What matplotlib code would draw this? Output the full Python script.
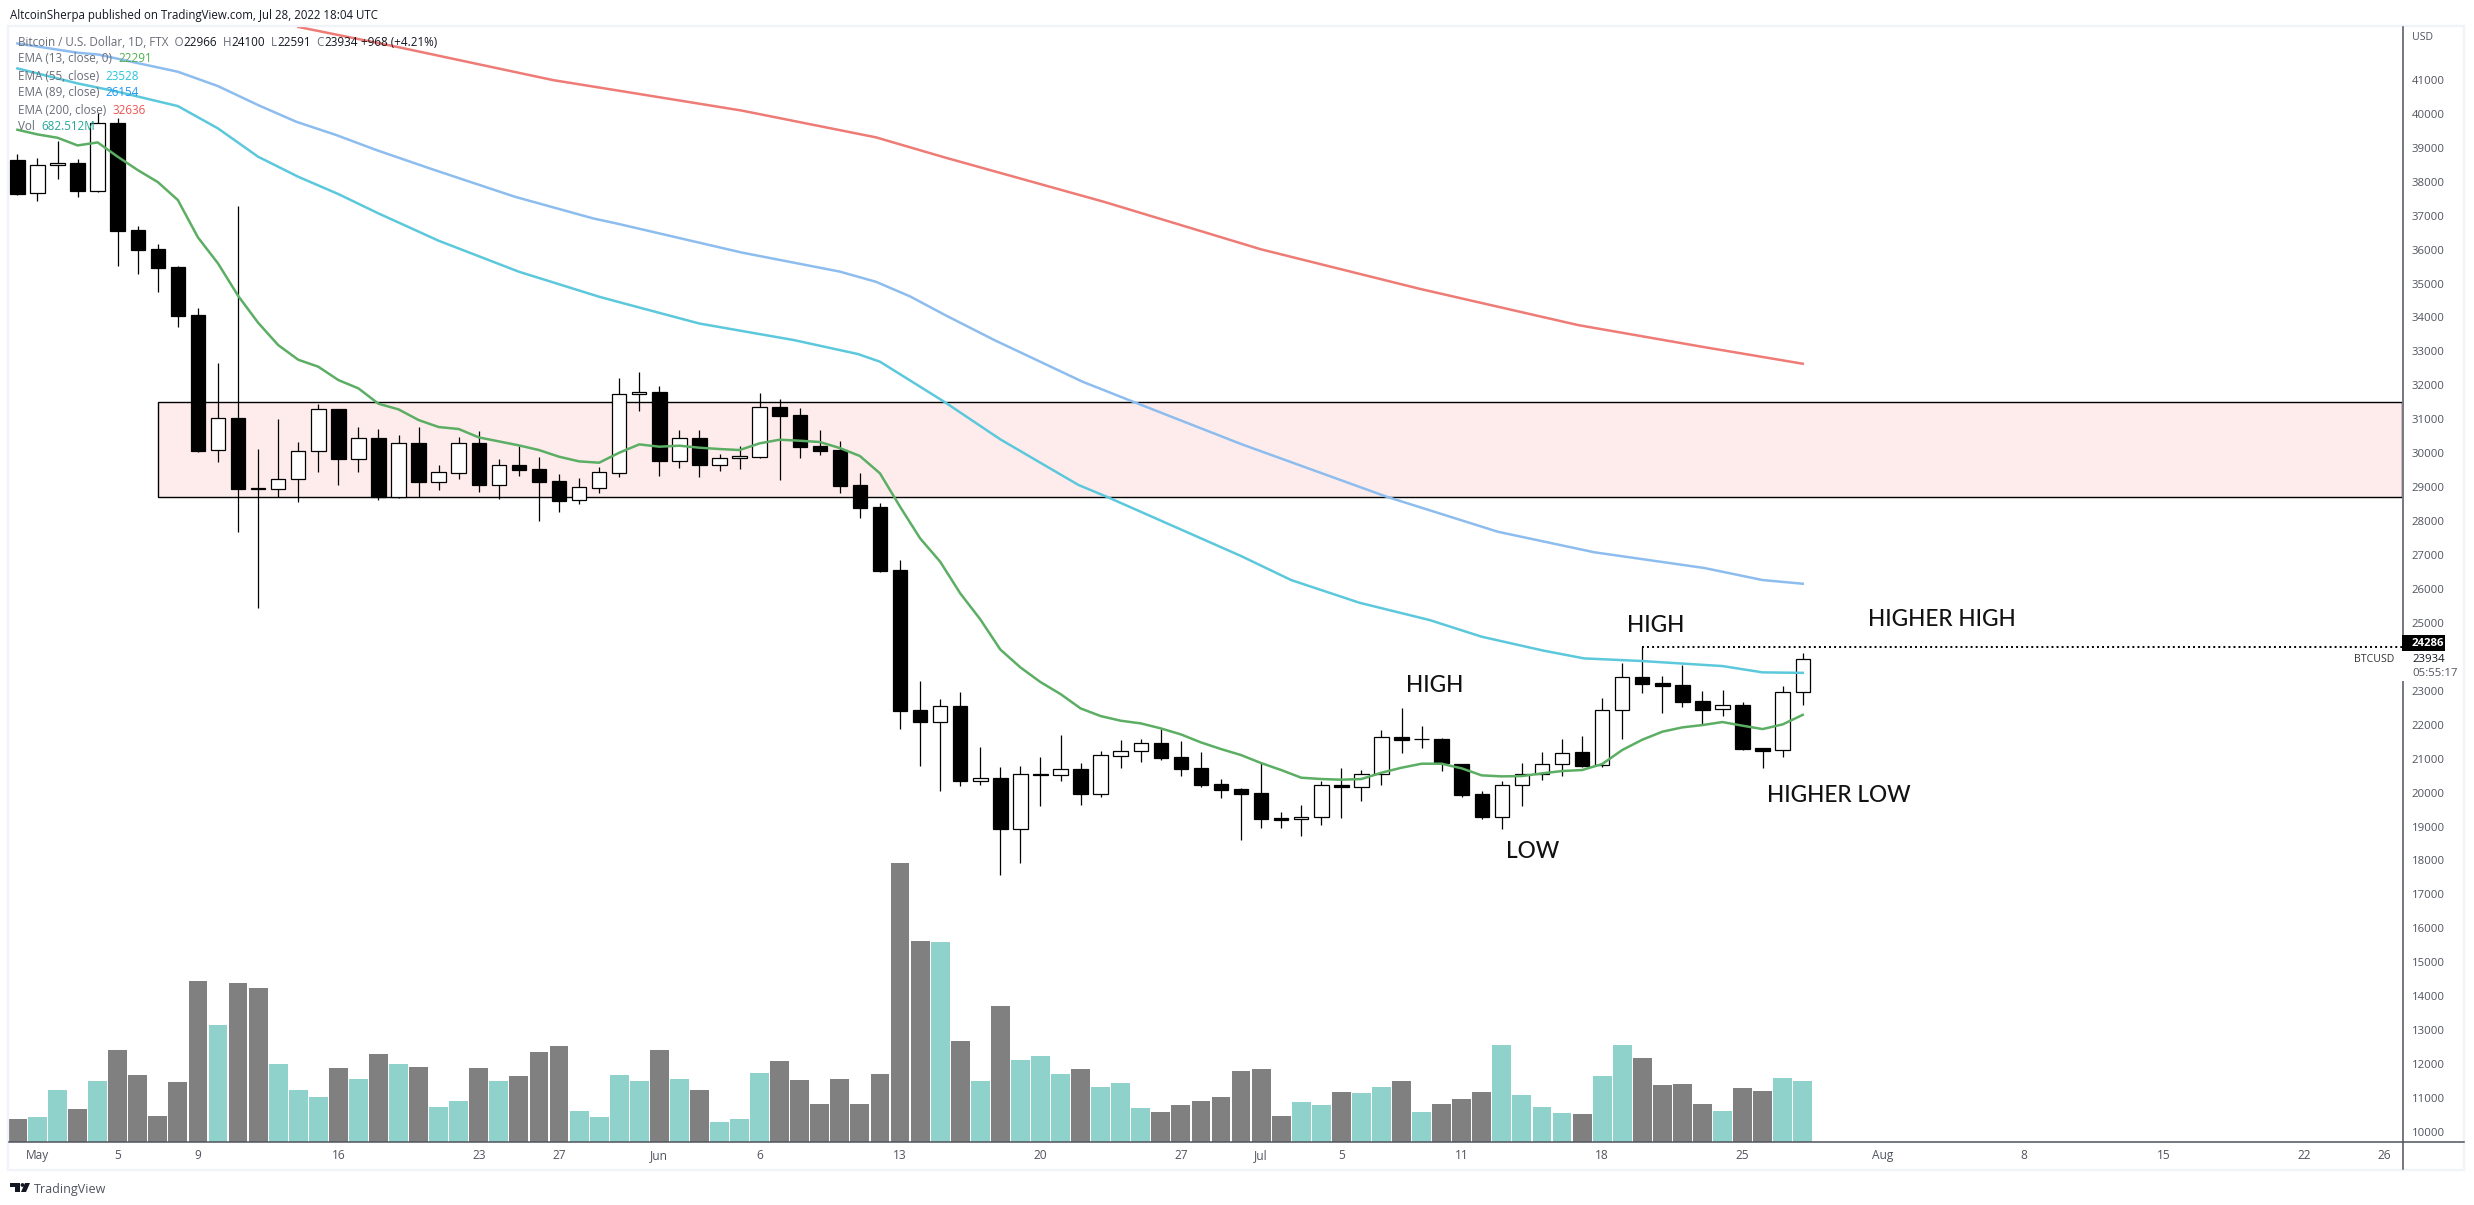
import matplotlib
matplotlib.use("Agg")
import matplotlib.pyplot as plt
from matplotlib.patches import Rectangle, Polygon, Circle

plt.rcParams["font.family"] = ["Open Sans", "DejaVu Sans"]

# OHLC per day, first candle is Apr 30
opens = [38636, 37654, 38479, 38548, 37733, 39727, 36574, 36015, 35484, 34070,
         30083, 31036, 28940, 28954, 29229, 30054, 31301, 29838, 30447, 28699,
         30299, 29160, 29425, 30299, 29072, 29651, 29533, 29180, 28610, 28983,
         29425, 31733, 31802, 29779, 30447, 29661, 29848, 29897, 31360, 31124,
         30211, 30093, 29062, 28414, 26558, 22422, 22088, 22550, 20350, 20429,
         18936, 20527, 20527, 20694, 19967, 21086, 21214, 21460, 21047, 20723,
         20252, 20105, 19977, 19251, 19211, 19270, 20213, 20154, 20537, 21627,
         21568, 21578, 20841, 19958, 19290, 20213, 20557, 20832, 21185, 20802,
         22422, 23395, 23218, 23159, 22688, 22452, 22570, 21303, 21244, 22966]
highs = [38813, 38686, 39196, 38666, 40031, 39874, 36692, 36162, 35514, 34266,
         32656, 37281, 30122, 31006, 30329, 31448, 31310, 30771, 30712, 30535,
         30771, 29651, 30476, 30643, 29828, 30211, 29887, 29386, 29268, 29602,
         32214, 32381, 31969, 30683, 30683, 29976, 30211, 31773, 31586, 31321,
         30683, 30359, 29416, 28532, 26858, 23286, 22756, 22962, 21342, 20753,
         20782, 21047, 21695, 20870, 21214, 21548, 21577, 21862, 21519, 21185,
         20389, 20124, 20910, 19418, 19624, 20341, 20714, 20665, 21843, 22491,
         21961, 21598, 20841, 20046, 20341, 20871, 21185, 21578, 21666, 22786,
         23817, 24286, 23424, 23758, 22982, 23021, 22658, 21323, 23129, 24100]
lows = [37605, 37438, 38086, 37556, 37694, 35524, 35278, 34748, 33726, 30040,
        29749, 27687, 25448, 28699, 28571, 29455, 29072, 29455, 28620, 28680,
        28699, 28915, 29239, 28856, 28659, 29327, 28001, 28266, 28502, 28826,
        29307, 31252, 29337, 29573, 29308, 29485, 29534, 29870, 29220, 29868,
        29956, 28836, 28100, 26500, 21882, 20792, 20055, 20203, 20232, 17581,
        17934, 19613, 20350, 19643, 19879, 20733, 20910, 20969, 20497, 20173,
        19849, 18612, 18966, 18966, 18730, 19054, 19260, 19761, 20223, 21175,
        21322, 20645, 19879, 19231, 18917, 19614, 20370, 20498, 20763, 20763,
        21588, 22943, 22354, 22530, 21996, 22265, 21264, 20733, 21057, 22591]
closes = [37645, 38479, 38538, 37723, 39717, 36555, 35995, 35464, 34050, 30073,
          31026, 28954, 28964, 29229, 30054, 31291, 29838, 30437, 28699, 30289,
          29160, 29435, 30289, 29072, 29641, 29504, 29160, 28600, 28993, 29435,
          31733, 31792, 29779, 30437, 29652, 29848, 29907, 31350, 31105, 30192,
          30074, 29043, 28395, 26538, 22412, 22088, 22540, 20350, 20419, 18936,
          20537, 20546, 20684, 19967, 21096, 21214, 21450, 21028, 20703, 20232,
          20085, 19967, 19231, 19201, 19270, 20213, 20154, 20537, 21627, 21558,
          21568, 20861, 19928, 19280, 20213, 20557, 20832, 21175, 20782, 22422,
          23395, 23208, 23149, 22678, 22442, 22570, 21293, 21234, 22953, 23934]

# volume in millions, and the days drawn teal
volumes = [261, 283, 586, 373, 686, 1033, 753, 295, 675, 1805,
           1313, 1783, 1727, 877, 586, 507, 832, 709, 988, 877,
           843, 395, 463, 832, 686, 742, 1011, 1078, 351, 283,
           753, 686, 1033, 709, 586, 228, 261, 776, 910, 698,
           429, 709, 429, 765, 3126, 2253, 2242, 1134, 686, 1526,
           921, 966, 765, 821, 619, 664, 384, 339, 418, 463,
           507, 798, 821, 295, 451, 418, 563, 552, 619, 686,
           339, 429, 485, 563, 1089, 530, 395, 328, 317, 742,
           1089, 944, 642, 653, 429, 351, 608, 574, 720, 683]
teal_days = [1, 2, 4, 10, 13, 14, 15, 17, 19, 21, 22, 24, 28, 29, 30, 31, 33, 35, 36, 37,
             46, 48, 50, 51, 52, 54, 55, 56, 64, 65, 67, 68, 70, 74, 75, 76, 77, 79, 80,
             85, 88, 89]

ema13 = [39530, 39393, 39294, 39068, 39157, 38735, 38342, 37988, 37458, 36358,
         35592, 34640, 33844, 33186, 32754, 32548, 32155, 31910, 31458, 31291,
         30977, 30771, 30712, 30466, 30348, 30230, 30093, 29897, 29759, 29720,
         30014, 30260, 30192, 30221, 30162, 30123, 30093, 30290, 30398, 30368,
         30329, 30152, 29917, 29406, 28424, 27491, 26804, 25871, 25105, 24215,
         23689, 23257, 22903, 22481, 22255, 22118, 22039, 21892, 21715, 21479,
         21283, 21106, 20870, 20665, 20439, 20400, 20380, 20400, 20586, 20733,
         20851, 20851, 20714, 20507, 20478, 20488, 20566, 20635, 20665, 20841,
         21254, 21558, 21794, 21922, 21990, 22079, 21971, 21872, 22010, 22291]

ema55_days = [0, 3, 5, 8, 10, 12, 14, 16, 18, 21, 25, 29, 30, 34, 38.7, 41.9, 43, 46.2, 49,
              52.9, 54.3, 61, 63.5, 66.9, 70.4, 73, 76.1, 78.1, 81, 85, 87, 89]
ema55 = [41337, 40895, 40650, 40227, 39569, 38735, 38145, 37635, 37065, 36260, 35347, 34610,
         34450, 33820, 33334, 32922, 32696, 31517, 30408, 29062, 28718, 26970, 26262, 25594,
         25084, 24592, 24180, 23954, 23876, 23728, 23542, 23528]

ema89_days = [0, 3, 4, 8, 10, 12, 13.9, 15.9, 17.9, 20.8, 24.8, 28.7, 30, 36.1, 41, 42.8, 44.5,
              46.3, 48.7, 53.1, 55.7, 61, 68.3, 73.8, 78.6, 84.1, 87, 89]
ema89 = [42073, 41800, 41749, 41239, 40816, 40257, 39766, 39373, 38931, 38342, 37556, 36918,
         36751, 35913, 35350, 35050, 34620, 34054, 33334, 32106, 31498, 30270, 28709, 27686,
         27082, 26617, 26262, 26154]

ema200_days = [14, 18.9, 22.8, 26.7, 30, 36.1, 42.8, 46.3, 54.2, 62, 69.9, 77.8, 84.1, 89]
ema200 = [42560, 41975, 41484, 40993, 40679, 40096, 39306, 38702, 37401, 36006, 34844,
          33775, 33124, 32636]

price_ticks = [p for p in range(10000, 42000, 1000) if p != 24000]
date_ticks = [1, 5, 9, 16, 23, 27, 32, 37, 44, 51, 58, 62, 66, 72, 79, 86, 93, 100, 107, 114, 118]
date_labels = ["May", "5", "9", "16", "23", "27", "Jun", "6", "13", "20", "27", "Jul", "5", "11",
               "18", "25", "Aug", "8", "15", "22", "26"]

band_low, band_high = 28700, 31500
prev_high = 24286
prev_high_day = 81

W, H = 2474, 1205
fig = plt.figure(figsize=(W / 100, H / 100), dpi=100, facecolor="white")

# pixel box of the chart pane
left, right, top, bottom = 9, 2402, 27, 1142
rect = [left / W, 1 - bottom / H, (right - left) / W, (bottom - top) / H]
ax_vol = fig.add_axes(rect)
ax = fig.add_axes(rect, sharex=ax_vol)
ax.patch.set_visible(False)

first_x, pitch = 17.4, 20.06
ax.set_xlim((left - first_x) / pitch, (right - first_x) / pitch)
px_per_price = 0.03394
ax.set_ylim(10000 + (1132 - bottom) / px_per_price, 10000 + (1132 - top) / px_per_price)
ax_vol.set_ylim(0, (bottom - top) * 11.19)

# volume
days = list(range(len(opens)))
vol_colors = ["#8FD1CB" if d in teal_days else "#808080" for d in days]
ax_vol.bar(days, volumes, width=0.94, color=vol_colors, linewidth=0)

# support / resistance box
ax.add_patch(Rectangle((7, band_low), ax.get_xlim()[1] - 7, band_high - band_low,
                       facecolor="#FEECEC", edgecolor="black", linewidth=1.0, zorder=1))

# candles
ax.vlines(days, lows, highs, color="black", linewidth=0.9, zorder=2)
for d in days:
    o, c = opens[d], closes[d]
    fill = "white" if c >= o else "black"
    ax.bar(d, max(abs(c - o), 1), bottom=min(o, c), width=0.72, color=fill,
           edgecolor="black", linewidth=0.9, zorder=3)

ax.plot(days, ema13, color="#5BAE63", linewidth=1.8, zorder=4)
ax.plot(ema55_days, ema55, color="#5CC8DC", linewidth=1.8, zorder=4)
ax.plot(ema89_days, ema89, color="#8DBDEE", linewidth=1.8, zorder=4)
ax.plot(ema200_days, ema200, color="#EE7B75", linewidth=1.8, zorder=4)

ax.hlines(prev_high, prev_high_day, ax.get_xlim()[1], color="black", linewidth=1.4,
          linestyles=[(0, (1, 1.6))], zorder=5)

for a in (ax, ax_vol):
    for s in ("top", "left", "right", "bottom"):
        a.spines[s].set_visible(False)
ax_vol.set_yticks([])
ax_vol.tick_params(axis="x", bottom=False, labelbottom=False)

ax.yaxis.tick_right()
ax.set_yticks(price_ticks)
ax.set_yticklabels([str(p) for p in price_ticks])
ax.tick_params(axis="y", length=0, pad=7, labelsize=8.2, labelcolor="#50535E")
ax.set_xticks(date_ticks)
ax.set_xticklabels(date_labels)
ax.tick_params(axis="x", length=0, pad=5, labelsize=8.6, labelcolor="#50535E")

# overlay in image pixels for the frame, headers and drawn labels
ov = fig.add_axes([0, 0, 1, 1], zorder=10)
ov.set_xlim(0, W)
ov.set_ylim(H, 0)
ov.axis("off")
ov.patch.set_visible(False)

frame = "#F0F3FA"
ov.add_patch(Rectangle((8, 26), 2456, 1144, fill=False, edgecolor=frame, linewidth=1.6))
ov.plot([9, 2464], [1142, 1142], color="#50535E", linewidth=1.1)
ov.plot([2402.5, 2402.5], [27, 1169], color="#50535E", linewidth=1.1)

# covers the price scale behind the last price labels
ov.add_patch(Rectangle((2401, 651), 60, 30, facecolor="white", edgecolor="none", zorder=2))
ov.add_patch(Rectangle((2402, 635), 43, 16, facecolor="black", edgecolor="none", zorder=3))
ov.text(2412, 643.5, "24286", color="white", fontsize=8.2, fontweight="bold", va="center", zorder=4)
ov.text(2412, 660, "23934", color="#131722", fontsize=8.2, va="center", zorder=4)
ov.text(2412, 673, "05:55:17", color="#50535E", fontsize=8.2, va="center", zorder=4)
ov.text(2394, 660, "BTCUSD", color="#333333", fontsize=7.6, va="center", ha="right", zorder=4)
ov.text(2412, 37, "USD", color="#50535E", fontsize=7.6, va="center")

ov.text(10, 15, "AltcoinSherpa published on TradingView.com, Jul 28, 2022 18:04 UTC",
        color="#131722", fontsize=8.3, va="center")


def run(x, y, parts):
    # consecutive coloured pieces on one legend row
    renderer = fig.canvas.get_renderer()
    for txt, col in parts:
        t = ov.text(x, y, txt, color=col, fontsize=8.4, va="center", zorder=6)
        x += t.get_window_extent(renderer).width


grey = "#6A6D78"
dark = "#131722"
run(18, 42, [("Bitcoin / U.S. Dollar, 1D, FTX  O", grey), ("22966", dark), ("  H", grey), ("24100", dark),
             ("  L", grey), ("22591", dark), ("  C", grey), ("23934", dark), (" +968 (+4.21%)", dark)])
run(18, 59, [("EMA (13, close, 0)  ", grey), ("22291", "#4CAF50")])
run(18, 76, [("EMA (55, close)  ", grey), ("23528", "#26C6DA")])
run(18, 93, [("EMA (89, close)  ", grey), ("26154", "#2196F3")])
run(18, 110, [("EMA (200, close)  ", grey), ("32636", "#EF5350")])
run(18, 127, [("Vol  ", grey), ("682.512M", "#26A69A")])

for txt, x, y in [("HIGH", 1406, 685), ("HIGH", 1627, 625), ("LOW", 1506, 851),
                  ("HIGHER LOW", 1767, 795), ("HIGHER HIGH", 1868, 620)]:
    ov.text(x, y, txt, color="#111111", fontsize=16.3, family="Lato", fontweight="medium", va="center")

# TradingView mark
logo = "#131722"
ov.add_patch(Polygon([(10, 1183), (20, 1183), (20, 1192), (15, 1192), (15, 1187), (10, 1187)],
                     facecolor=logo, edgecolor="none"))
ov.add_patch(Circle((22.5, 1185), 1.9, facecolor=logo, edgecolor="none"))
ov.add_patch(Polygon([(25, 1183), (30, 1183), (26, 1192), (21, 1192)], facecolor=logo, edgecolor="none"))
ov.text(34, 1189, "TradingView", color="#50535E", fontsize=9.0, va="center")

fig.savefig("out.png", dpi=100)
